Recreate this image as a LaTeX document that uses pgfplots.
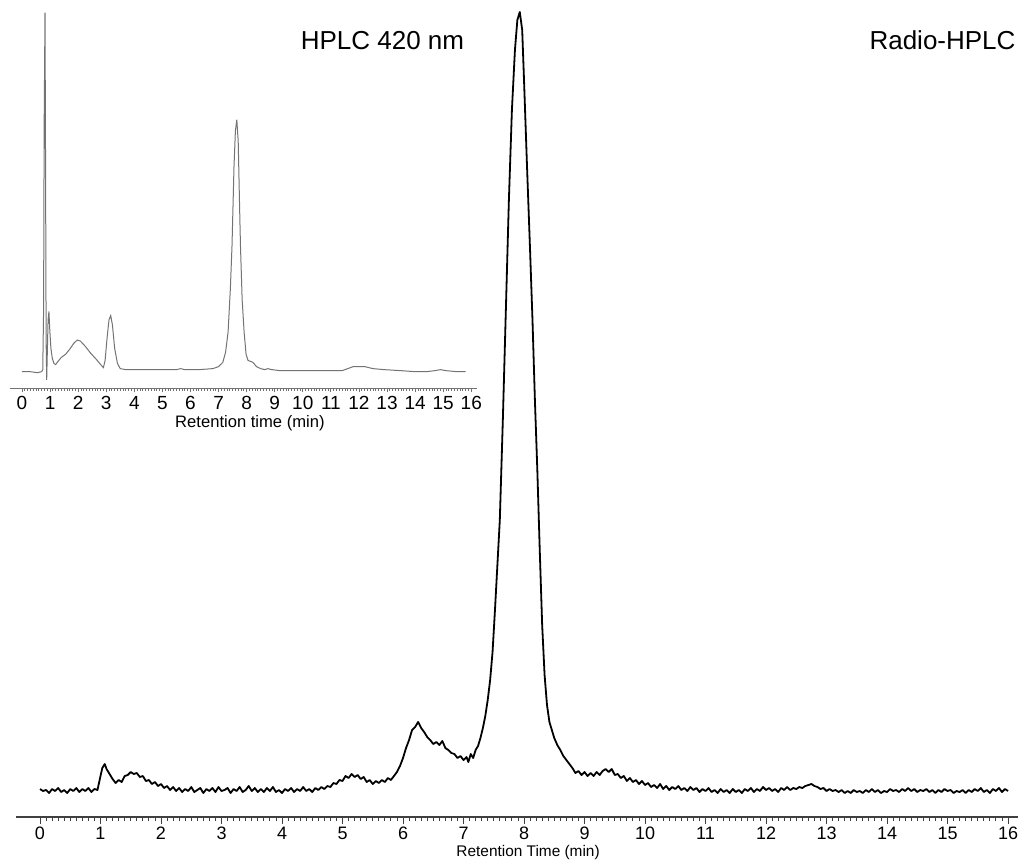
\documentclass[border=0pt]{standalone}
\usepackage{fontspec}
\setmainfont{Liberation Sans}
\usepackage{pgfplots}
\pgfplotsset{compat=1.18}
\definecolor{TraceGray}{RGB}{115,115,115}

\begin{document}
\begin{tikzpicture}[x=1pt,y=1pt]
  \useasboundingbox (0,0) rectangle (513,429.5);
  % --- inset: HPLC 420 nm ---
  \begin{axis}[
    at={(4.95pt,235.5pt)}, anchor=south west,
    scale only axis, width=233.5pt, height=194pt,
    xmin=-0.43, xmax=16.2, ymin=-17, ymax=371,
    axis x line=bottom, axis y line=none,
    axis line style={-, black!55, line width=0.5pt},
    xtick={0,...,16}, minor x tick num=9, tick align=outside,
    major tick length=2.2pt, minor tick length=1.4pt,
    tick style={black!55, line width=0.4pt},
    /pgf/number format/assume math mode=true,
    xticklabel style={font=\fontsize{9.5}{10}\selectfont, yshift=1.5pt},
    xlabel={Retention time (min)},
    xlabel style={font=\fontsize{8.3}{9}\selectfont, at={(axis description cs:0.514,0)}, anchor=center, yshift=-17.5pt},
    clip=false,
  ]
  \addplot[TraceGray, line width=0.5pt] coordinates {
    (0.00,-1) (0.30,-1) (0.55,-2) (0.70,-1) (0.74,1) (0.77,60) (0.79,240) (0.82,351)
    (0.84,200) (0.86,30) (0.88,-9) (0.90,15) (0.93,50) (0.96,58) (0.99,40) (1.03,22)
    (1.08,12) (1.14,7) (1.20,6) (1.28,9) (1.40,13) (1.55,16) (1.70,21) (1.85,27)
    (1.97,30) (2.08,29) (2.25,24) (2.45,17) (2.65,11) (2.80,6) (2.90,3) (2.96,10)
    (3.03,32) (3.10,50) (3.16,54) (3.22,45) (3.30,22) (3.40,7) (3.50,2) (3.70,1)
    (4.00,1) (4.50,1) (5.00,1) (5.50,1) (5.65,2) (5.80,1) (6.30,1) (6.80,2)
    (7.00,4) (7.15,8) (7.25,18) (7.34,38) (7.42,80) (7.48,123) (7.55,200) (7.60,235)
    (7.65,246) (7.70,225) (7.75,160) (7.78,123) (7.84,70) (7.91,38) (7.98,16) (8.05,10)
    (8.15,9) (8.23,8) (8.35,4) (8.50,2) (8.65,1) (8.75,2) (8.90,1) (9.20,0)
    (10.00,0) (10.80,0) (11.40,0) (11.60,2) (11.80,4) (12.00,4) (12.20,4) (12.50,2)
    (12.90,1) (13.50,0) (14.00,-1) (14.40,-1) (14.70,0) (14.90,1) (15.10,0) (15.50,-1)
    (15.80,-1)
  };
  \end{axis}
  % --- main: Radio-HPLC ---
  \begin{axis}[
    at={(7.9pt,21pt)}, anchor=south west,
    scale only axis, width=501.25pt, height=408.5pt,
    xmin=-0.4, xmax=16.17, ymin=-27, ymax=790,
    axis x line=bottom, axis y line=none,
    axis line style={-, black!75, line width=0.6pt},
    xtick={0,...,16}, minor x tick num=9, tick align=outside,
    major tick length=3.5pt, minor tick length=2pt,
    tick style={black!75, line width=0.45pt},
    /pgf/number format/assume math mode=true,
    xticklabel style={font=\fontsize{9}{10}\selectfont, yshift=2pt},
    xlabel={Retention Time (min)},
    xlabel style={font=\fontsize{7.7}{9}\selectfont, at={(axis description cs:0.511,0)}, anchor=center, yshift=-17.5pt},
    clip=false,
  ]
  \addplot[black, line width=0.9pt, line join=round] coordinates {
    (0.00,1) (0.05,-1) (0.10,0) (0.15,-3) (0.20,1) (0.25,-1) (0.30,2) (0.35,-2)
    (0.40,0) (0.45,-3) (0.50,1) (0.55,-1) (0.60,2) (0.65,-2) (0.70,1) (0.75,-1)
    (0.80,2) (0.85,-2) (0.90,1) (0.95,0) (1.00,14) (1.03,22) (1.07,26) (1.10,21)
    (1.15,16) (1.20,11) (1.25,7) (1.30,10) (1.35,8) (1.40,14) (1.45,15) (1.50,18)
    (1.55,16) (1.60,17) (1.65,13) (1.70,14) (1.75,9) (1.80,10) (1.85,6) (1.90,8)
    (1.95,4) (2.00,6) (2.05,2) (2.10,4) (2.15,0) (2.20,3) (2.25,-1) (2.30,2)
    (2.35,-2) (2.40,1) (2.45,-1) (2.50,3) (2.55,-2) (2.60,0) (2.65,2) (2.70,-3)
    (2.75,1) (2.80,-1) (2.85,2) (2.90,-2) (2.95,3) (3.00,-1) (3.05,0) (3.10,2)
    (3.15,-3) (3.20,1) (3.25,-1) (3.30,3) (3.35,-2) (3.40,0) (3.45,4) (3.50,-1)
    (3.55,2) (3.60,-2) (3.65,1) (3.70,-2) (3.75,2) (3.80,-1) (3.85,3) (3.90,-2)
    (3.95,0) (4.00,-3) (4.05,1) (4.10,-1) (4.15,2) (4.20,-2) (4.25,1) (4.30,-1)
    (4.35,3) (4.40,-1) (4.45,1) (4.50,-2) (4.55,2) (4.60,0) (4.65,3) (4.70,1)
    (4.75,4) (4.80,3) (4.85,7) (4.90,6) (4.95,10) (5.00,9) (5.05,14) (5.10,12)
    (5.15,16) (5.20,13) (5.25,15) (5.30,11) (5.35,13) (5.40,8) (5.45,10) (5.50,6)
    (5.55,9) (5.60,7) (5.65,10) (5.70,8) (5.75,12) (5.80,10) (5.85,14) (5.90,18)
    (5.95,24) (6.00,32) (6.05,42) (6.10,50) (6.15,60) (6.20,63) (6.25,68) (6.30,62)
    (6.35,58) (6.40,53) (6.45,50) (6.50,46) (6.55,48) (6.60,45) (6.65,49) (6.70,42)
    (6.75,40) (6.80,37) (6.85,36) (6.90,32) (6.95,34) (7.00,30) (7.05,33) (7.08,28)
    (7.12,36) (7.16,32) (7.20,40) (7.24,44) (7.28,52) (7.32,62) (7.36,74) (7.40,90)
    (7.44,110) (7.48,138) (7.52,180) (7.56,225) (7.60,270) (7.65,370) (7.70,480) (7.75,590)
    (7.80,680) (7.85,740) (7.89,770) (7.93,778) (7.97,760) (8.00,710) (8.05,623) (8.10,540)
    (8.14,470) (8.18,390) (8.22,320) (8.26,240) (8.30,165) (8.34,115) (8.38,85) (8.42,68)
    (8.46,60) (8.50,52) (8.55,45) (8.60,40) (8.65,34) (8.70,30) (8.75,26) (8.80,22)
    (8.85,17) (8.90,19) (8.95,15) (9.00,18) (9.05,14) (9.10,17) (9.15,14) (9.20,18)
    (9.25,15) (9.30,19) (9.35,21) (9.40,18) (9.45,21) (9.50,15) (9.55,16) (9.60,12)
    (9.65,14) (9.70,9) (9.75,12) (9.80,8) (9.85,10) (9.90,6) (9.95,9) (10.00,5)
    (10.05,7) (10.10,3) (10.15,5) (10.20,2) (10.25,6) (10.30,1) (10.35,4) (10.40,0)
    (10.45,3) (10.50,1) (10.55,4) (10.60,0) (10.65,2) (10.70,-1) (10.75,3) (10.80,0)
    (10.85,2) (10.90,-2) (10.95,1) (11.00,-1) (11.05,2) (11.10,-2) (11.15,0) (11.20,-3)
    (11.25,1) (11.30,-2) (11.35,0) (11.40,-3) (11.45,1) (11.50,-2) (11.55,0) (11.60,-3)
    (11.65,1) (11.70,-1) (11.75,2) (11.80,-2) (11.85,1) (11.90,-1) (11.95,3) (12.00,0)
    (12.05,2) (12.10,-1) (12.15,1) (12.20,-2) (12.25,2) (12.30,0) (12.35,3) (12.40,0)
    (12.45,2) (12.50,1) (12.55,3) (12.60,2) (12.65,4) (12.70,5) (12.75,6) (12.80,4)
    (12.85,3) (12.90,1) (12.95,2) (13.00,-1) (13.05,1) (13.10,-1) (13.15,0) (13.20,-2)
    (13.25,0) (13.30,-3) (13.35,-1) (13.40,-3) (13.45,0) (13.50,-2) (13.55,-1) (13.60,-3)
    (13.65,0) (13.70,-2) (13.75,1) (13.80,-2) (13.85,0) (13.90,-3) (13.95,-1) (14.00,-2)
    (14.05,1) (14.10,-1) (14.15,0) (14.20,-2) (14.25,1) (14.30,-1) (14.35,2) (14.40,-1)
    (14.45,1) (14.50,-2) (14.55,0) (14.60,-1) (14.65,1) (14.70,-2) (14.75,0) (14.80,-3)
    (14.85,0) (14.90,-2) (14.95,1) (15.00,-1) (15.05,0) (15.10,-3) (15.15,-1) (15.20,-2)
    (15.25,0) (15.30,-3) (15.35,0) (15.40,-2) (15.45,1) (15.50,-1) (15.55,2) (15.60,-2)
    (15.65,0) (15.70,-3) (15.75,1) (15.80,-1) (15.85,2) (15.90,-2) (15.95,1) (16.00,-1)
  };
  \end{axis}
  \node[font=\fontsize{13}{15}\selectfont] at (191.25,409.25) {HPLC 420 nm};
  \node[font=\fontsize{13}{15}\selectfont] at (471.25,409.25) {Radio-HPLC};
\end{tikzpicture}
\end{document}
